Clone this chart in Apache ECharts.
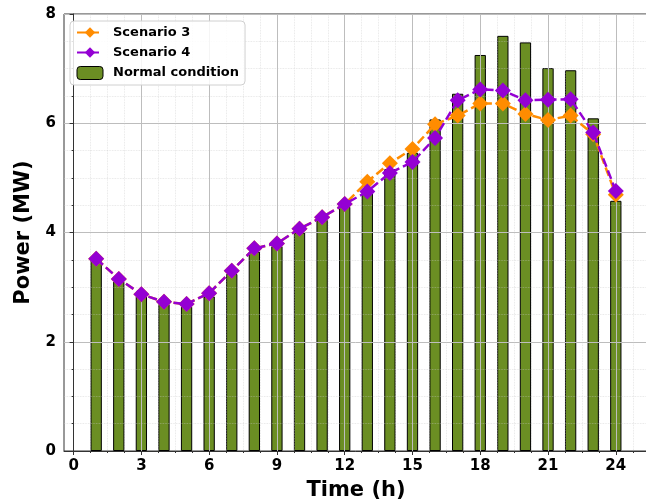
<!DOCTYPE html>
<html>
<head>
<meta charset="utf-8">
<script src="https://cdn.jsdelivr.net/npm/echarts@6/dist/echarts.min.js"></script>
<style>html,body{margin:0;padding:0;background:#fff}#c{width:646px;height:504px}</style>
</head>
<body>
<div id="c"></div>
<script>
const hours = [1,2,3,4,5,6,7,8,9,10,11,12,13,14,15,16,17,18,19,20,21,22,23,24];
const normalCondition = [3.50,3.10,2.83,2.69,2.64,2.83,3.24,3.65,3.75,4.00,4.23,4.47,4.72,5.16,5.46,6.07,6.54,7.25,7.60,7.48,7.01,6.97,6.09,4.58];
const scenario3 = [3.52,3.15,2.87,2.73,2.69,2.89,3.30,3.71,3.80,4.07,4.28,4.52,4.93,5.27,5.53,5.98,6.14,6.36,6.36,6.17,6.06,6.14,5.80,4.69];
const scenario4 = [3.52,3.15,2.87,2.73,2.69,2.89,3.30,3.71,3.80,4.07,4.28,4.52,4.75,5.09,5.29,5.73,6.42,6.62,6.60,6.42,6.43,6.44,5.83,4.76];
const xTicks = [0,3,6,9,12,15,18,21,24];
const yTicks = [0,2,4,6,8];

const xMin = -0.425, xMax = 25.425;
const xMinor = [];
for (let k = 1; k * 0.75 < xMax; k++) { if (k % 4 !== 0) xMinor.push(k * 0.75); }

const font = 'DejaVu Sans';
const pair = arr => hours.map((h, i) => [h, arr[i]]);

const chart = echarts.init(document.getElementById('c'), null, {renderer: 'canvas'});
chart.setOption({
  animation: false,
  backgroundColor: '#fff',
  grid: {left: 64, right: -2, top: 14, bottom: 53, show: true, borderColor: '#333', borderWidth: 1, outerBoundsMode: 'none', containLabel: false},
  legend: {
    orient: 'vertical', left: 70, top: 21,
    padding: [5, 6, 5, 6], itemGap: 7, itemWidth: 26, itemHeight: 13,
    backgroundColor: 'rgba(255,255,255,0.85)', borderColor: '#d0d0d0', borderWidth: 1, borderRadius: 4,
    textStyle: {fontFamily: font, fontWeight: 'bold', fontSize: 13, color: '#000', padding: [0,0,0,5]},
    data: ['Scenario 3', 'Scenario 4', {name: 'Normal condition', itemStyle: {borderColor: '#000', borderWidth: 1}}]
  },
  xAxis: [{
    type: 'value', min: xMin, max: xMax, position: 'bottom', z: 3,
    name: 'Time (h)', nameLocation: 'middle', nameGap: 29,
    nameTextStyle: {fontFamily: font, fontWeight: 'bold', fontSize: 21, color: '#000'},
    axisLine: {show: true, onZero: false, lineStyle: {color: '#333', width: 1}},
    axisTick: {show: true, customValues: xTicks, length: 4, lineStyle: {color: '#333'}},
    axisLabel: {customValues: xTicks, margin: 8, fontFamily: font, fontWeight: 'bold', fontSize: 15, color: '#000'},
    splitLine: {show: true, lineStyle: {color: '#bdbdbd', width: 1}}
  }, {
    type: 'value', min: xMin, max: xMax, position: 'bottom', z: 3,
    axisLine: {show: false},
    axisTick: {show: true, customValues: xMinor, length: 2, lineStyle: {color: '#333'}},
    axisLabel: {show: false, customValues: xMinor},
    splitLine: {show: true, lineStyle: {color: 'rgba(200,200,200,0.55)', width: 0.8, type: 'dotted'}}
  }],
  yAxis: {
    type: 'value', min: 0, max: 8, interval: 2, z: 3,
    name: 'Power (MW)', nameLocation: 'middle', nameGap: 30,
    nameTextStyle: {fontFamily: font, fontWeight: 'bold', fontSize: 21, color: '#000'},
    axisLine: {show: true, lineStyle: {color: '#333', width: 1}},
    axisTick: {show: true, length: 4, lineStyle: {color: '#333'}},
    minorTick: {show: true, splitNumber: 4, length: 2, lineStyle: {color: '#333'}},
    axisLabel: {margin: 8, fontFamily: font, fontWeight: 'bold', fontSize: 15, color: '#000'},
    splitLine: {show: true, lineStyle: {color: '#bdbdbd', width: 1}},
    minorSplitLine: {show: true, lineStyle: {color: 'rgba(200,200,200,0.55)', width: 0.8, type: 'dotted'}}
  },
  series: [{
    name: 'Normal condition', type: 'bar', xAxisIndex: 0, z: 2,
    data: pair(normalCondition), barWidth: '50%',
    itemStyle: {color: '#6b8e23', borderColor: '#000', borderWidth: 1}
  }, {
    name: 'Scenario 3', type: 'line', xAxisIndex: 0, z: 4,
    data: pair(scenario3), symbol: 'diamond', symbolSize: 16,
    itemStyle: {color: '#ff8c00'},
    lineStyle: {color: '#ff8c00', width: 2.5, type: [9, 4]}
  }, {
    name: 'Scenario 4', type: 'line', xAxisIndex: 0, z: 5,
    data: pair(scenario4), symbol: 'diamond', symbolSize: 16,
    itemStyle: {color: '#9400d3'},
    lineStyle: {color: '#9400d3', width: 2.5, type: [9, 4]}
  }]
});
</script>
</body>
</html>
